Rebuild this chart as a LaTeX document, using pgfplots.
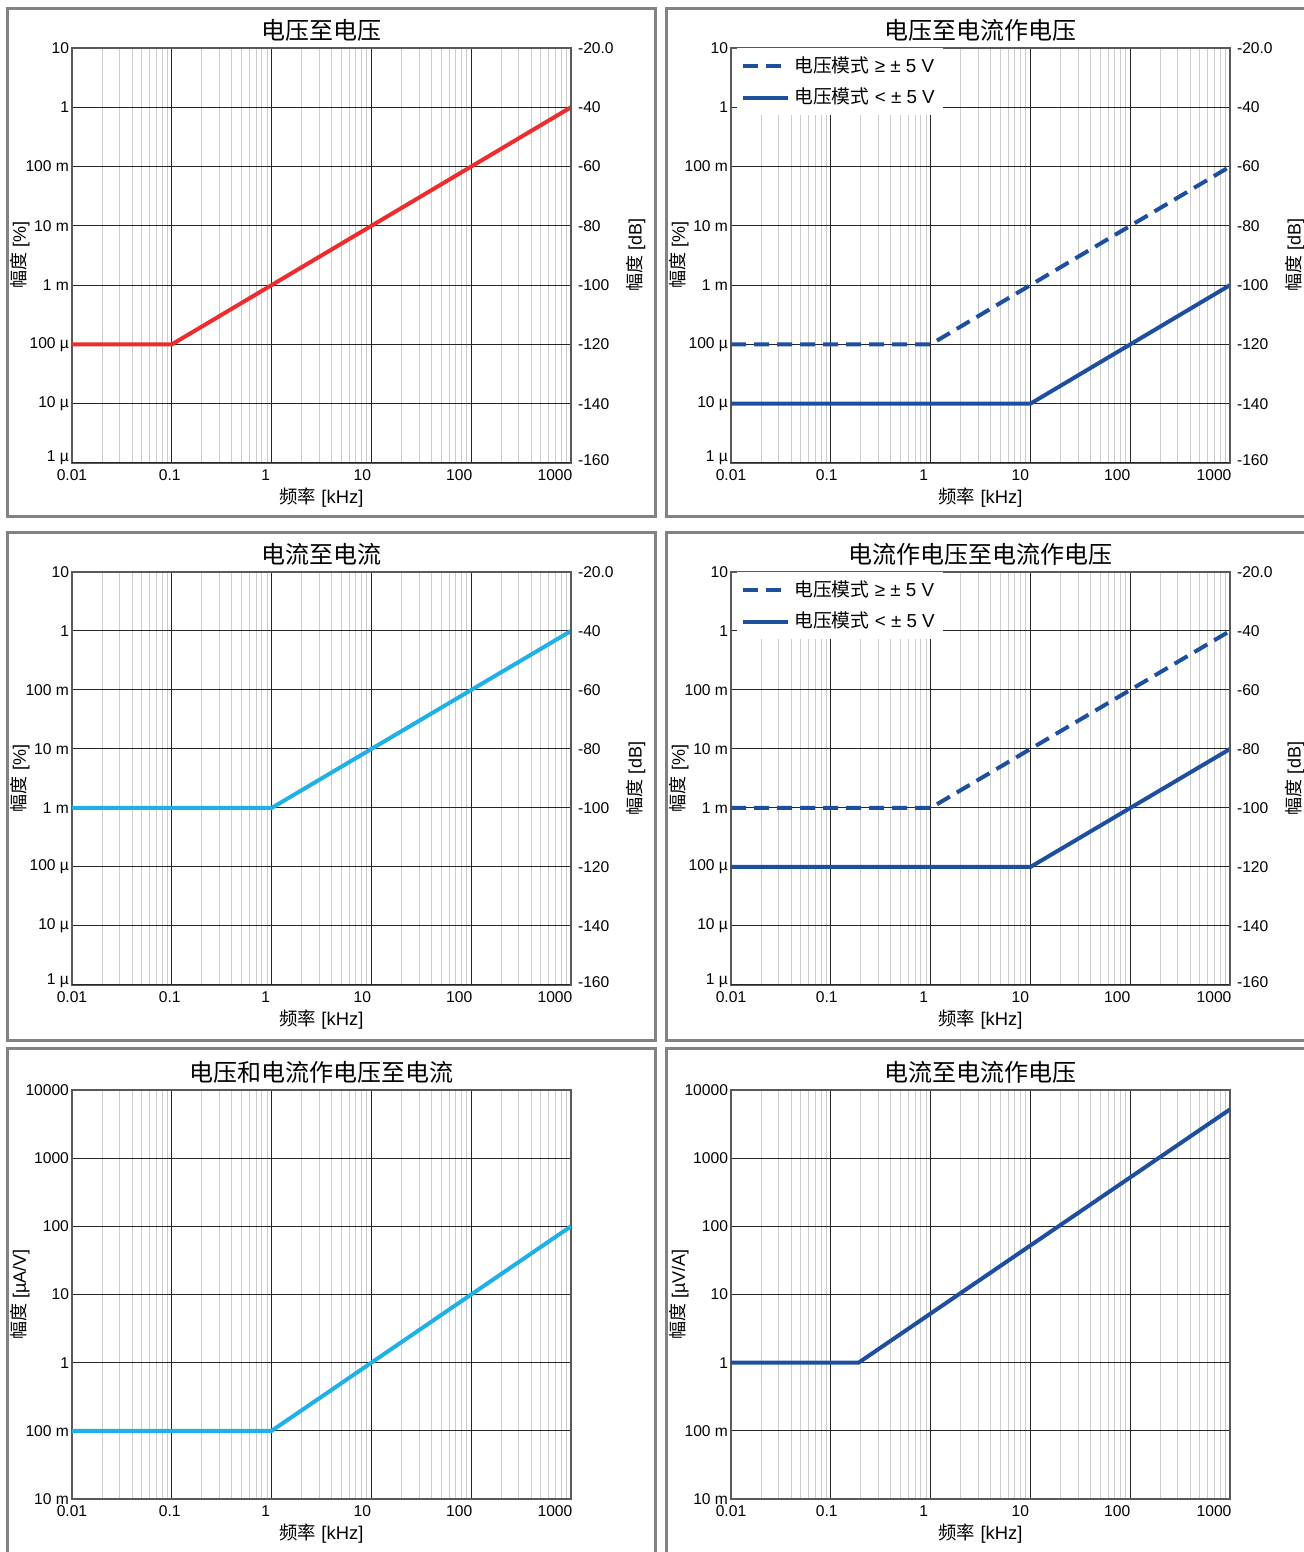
\documentclass[border=0pt]{standalone}
\usepackage{fontspec}
\setmainfont{Liberation Sans}
\newfontfamily\cjk{Noto Sans CJK SC}
\usepackage{pgfplots}
\pgfplotsset{compat=1.18}
\definecolor{cred}{RGB}{237,45,45}
\definecolor{ccyan}{RGB}{30,176,230}
\definecolor{cblue}{RGB}{30,78,160}
\definecolor{framegray}{RGB}{130,130,130}

\pgfplotsset{
  every axis/.append style={
    scale only axis, width=249.5pt,
    tick style={draw=none},
    axis line style={black!65, line width=0.75pt},
    tick label style={font=\fontsize{7.8}{9}\selectfont},
    yticklabel style={xshift=2pt},
    major grid style={black!85, line width=0.5pt},
    minor grid style={black!20, line width=0.5pt},
    title style={font=\cjk\fontsize{12}{13}\selectfont, at={(axis description cs:0.5,1.014)}, anchor=center},
    xlabel style={font=\fontsize{9.2}{10}\selectfont, at={(axis description cs:0.5,-0.084)}, anchor=center},
    legend style={at={(axis description cs:0.012,1.0)}, anchor=north west, draw=none, fill=white,
      font=\fontsize{9.4}{10}\selectfont, row sep=2.5pt, inner sep=2pt},
    legend cell align=left,
  },
  every axis plot/.append style={line width=2pt},
  legend image code/.code={\draw[#1] (0pt,0pt) -- (22.5pt,0pt);},
}
\newcommand{\sh}[2]{#1\hspace*{#2}}

\begin{document}
\begin{tikzpicture}
\useasboundingbox (0pt,0pt) rectangle (652pt,776pt);
% panel frames
\draw[framegray, line width=1.5pt] (3.5pt,517.5pt) rectangle (327.5pt,771.5pt);
\draw[framegray, line width=1.5pt] (333pt,517.5pt) rectangle (658pt,771.5pt);
\draw[framegray, line width=1.5pt] (3.5pt,255.5pt) rectangle (327.5pt,509.5pt);
\draw[framegray, line width=1.5pt] (333pt,255.5pt) rectangle (658pt,509.5pt);
\draw[framegray, line width=1.5pt] (3.5pt,-6pt) rectangle (327.5pt,251.5pt);
\draw[framegray, line width=1.5pt] (333pt,-6pt) rectangle (658pt,251.5pt);

% ---------- Row 1 left
\begin{axis}[at={(36pt,544.5pt)}, anchor=south west, height=207.5pt,
  xmode=log, ymode=log, xmin=0.01, xmax=1000, ymin=1e-6, ymax=10,
  xtick={0.01,0.1,1,10,100,1000},
  xticklabels={0.01,\sh{0.1}{2pt},\sh{1}{6pt},\sh{10}{9pt},\sh{100}{12pt},\sh{1000}{16pt}},
  ytick={1e-5,1e-4,1e-3,1e-2,1e-1,1,10},
  yticklabels={10 µ,100 µ,1 m,10 m,100 m,1,10},
  extra y ticks={1e-6}, extra y tick labels={1 µ},
  extra y tick style={yticklabel style={yshift=2.5pt}},
  xmajorgrids, xminorgrids, ymajorgrids,
  xlabel={{\cjk 频率} [kHz]},
  ylabel={{\cjk 幅度} [\%]},
  ylabel style={font=\fontsize{9}{10}\selectfont, at={(axis description cs:-0.104,0.5)}, anchor=center},
  title={电压至电压}]
\addplot[cred] coordinates {(0.01,1e-4) (0.1,1e-4) (1000,1)};
\end{axis}
\begin{axis}[at={(36pt,544.5pt)}, anchor=south west, height=207.5pt,
  xmin=0, xmax=1, ymin=-160, ymax=-20,
  axis x line=none, axis y line*=right,
  yticklabel style={xshift=-2pt},
  ytick={-140,-120,-100,-80,-60,-40,-20},
  yticklabels={-140,-120,-100,-80,-60,-40,-20.0},
  extra y ticks={-160}, extra y tick labels={-160},
  extra y tick style={yticklabel style={yshift=1.5pt}},
  ylabel={{\cjk 幅度} [dB]},
  ylabel style={font=\fontsize{9}{10}\selectfont, at={(axis description cs:1.13,0.5)}, anchor=center}]
\end{axis}

% ---------- Row 1 right
\begin{axis}[at={(365.5pt,544.5pt)}, anchor=south west, height=207.5pt,
  xmode=log, ymode=log, xmin=0.01, xmax=1000, ymin=1e-6, ymax=10,
  xtick={0.01,0.1,1,10,100,1000},
  xticklabels={0.01,\sh{0.1}{4pt},\sh{1}{7pt},\sh{10}{10pt},\sh{100}{13pt},\sh{1000}{16pt}},
  ytick={1e-5,1e-4,1e-3,1e-2,1e-1,1,10},
  yticklabels={10 µ,100 µ,1 m,10 m,100 m,1,10},
  extra y ticks={1e-6}, extra y tick labels={1 µ},
  extra y tick style={yticklabel style={yshift=2.5pt}},
  xmajorgrids, xminorgrids, ymajorgrids,
  xlabel={{\cjk 频率} [kHz]},
  ylabel={{\cjk 幅度} [\%]},
  ylabel style={font=\fontsize{9}{10}\selectfont, at={(axis description cs:-0.104,0.5)}, anchor=center},
  title={电压至电流作电压}]
\addplot[cblue, dash pattern=on 7.5pt off 4pt] coordinates {(0.01,1e-4) (1,1e-4) (1000,0.1)};
\addlegendentry{{\cjk 电压模式} ≥ ± 5 V}
\addplot[cblue] coordinates {(0.01,1e-5) (10,1e-5) (1000,1e-3)};
\addlegendentry{{\cjk 电压模式} < ± 5 V}
\end{axis}
\begin{axis}[at={(365.5pt,544.5pt)}, anchor=south west, height=207.5pt,
  xmin=0, xmax=1, ymin=-160, ymax=-20,
  axis x line=none, axis y line*=right,
  yticklabel style={xshift=-2pt},
  ytick={-140,-120,-100,-80,-60,-40,-20},
  yticklabels={-140,-120,-100,-80,-60,-40,-20.0},
  extra y ticks={-160}, extra y tick labels={-160},
  extra y tick style={yticklabel style={yshift=1.5pt}},
  ylabel={{\cjk 幅度} [dB]},
  ylabel style={font=\fontsize{9}{10}\selectfont, at={(axis description cs:1.13,0.5)}, anchor=center}]
\end{axis}

% ---------- Row 2 left
\begin{axis}[at={(36pt,283.5pt)}, anchor=south west, height=206.5pt,
  xmode=log, ymode=log, xmin=0.01, xmax=1000, ymin=1e-6, ymax=10,
  xtick={0.01,0.1,1,10,100,1000},
  xticklabels={0.01,\sh{0.1}{2pt},\sh{1}{6pt},\sh{10}{9pt},\sh{100}{12pt},\sh{1000}{16pt}},
  ytick={1e-5,1e-4,1e-3,1e-2,1e-1,1,10},
  yticklabels={10 µ,100 µ,1 m,10 m,100 m,1,10},
  extra y ticks={1e-6}, extra y tick labels={1 µ},
  extra y tick style={yticklabel style={yshift=2pt}},
  xmajorgrids, xminorgrids, ymajorgrids,
  xlabel={{\cjk 频率} [kHz]},
  ylabel={{\cjk 幅度} [\%]},
  ylabel style={font=\fontsize{9}{10}\selectfont, at={(axis description cs:-0.104,0.5)}, anchor=center},
  title={电流至电流}]
\addplot[ccyan] coordinates {(0.01,1e-3) (1,1e-3) (1000,1)};
\end{axis}
\begin{axis}[at={(36pt,283.5pt)}, anchor=south west, height=206.5pt,
  xmin=0, xmax=1, ymin=-160, ymax=-20,
  axis x line=none, axis y line*=right,
  yticklabel style={xshift=-2pt},
  ytick={-140,-120,-100,-80,-60,-40,-20},
  yticklabels={-140,-120,-100,-80,-60,-40,-20.0},
  extra y ticks={-160}, extra y tick labels={-160},
  extra y tick style={yticklabel style={yshift=1.5pt}},
  ylabel={{\cjk 幅度} [dB]},
  ylabel style={font=\fontsize{9}{10}\selectfont, at={(axis description cs:1.13,0.5)}, anchor=center}]
\end{axis}

% ---------- Row 2 right
\begin{axis}[at={(365.5pt,283.5pt)}, anchor=south west, height=206.5pt,
  xmode=log, ymode=log, xmin=0.01, xmax=1000, ymin=1e-6, ymax=10,
  xtick={0.01,0.1,1,10,100,1000},
  xticklabels={0.01,\sh{0.1}{4pt},\sh{1}{7pt},\sh{10}{10pt},\sh{100}{13pt},\sh{1000}{16pt}},
  ytick={1e-5,1e-4,1e-3,1e-2,1e-1,1,10},
  yticklabels={10 µ,100 µ,1 m,10 m,100 m,1,10},
  extra y ticks={1e-6}, extra y tick labels={1 µ},
  extra y tick style={yticklabel style={yshift=2pt}},
  xmajorgrids, xminorgrids, ymajorgrids,
  xlabel={{\cjk 频率} [kHz]},
  ylabel={{\cjk 幅度} [\%]},
  ylabel style={font=\fontsize{9}{10}\selectfont, at={(axis description cs:-0.104,0.5)}, anchor=center},
  title={电流作电压至电流作电压}]
\addplot[cblue, dash pattern=on 7.5pt off 4pt] coordinates {(0.01,1e-3) (1,1e-3) (1000,1)};
\addlegendentry{{\cjk 电压模式} ≥ ± 5 V}
\addplot[cblue] coordinates {(0.01,1e-4) (10,1e-4) (1000,1e-2)};
\addlegendentry{{\cjk 电压模式} < ± 5 V}
\end{axis}
\begin{axis}[at={(365.5pt,283.5pt)}, anchor=south west, height=206.5pt,
  xmin=0, xmax=1, ymin=-160, ymax=-20,
  axis x line=none, axis y line*=right,
  yticklabel style={xshift=-2pt},
  ytick={-140,-120,-100,-80,-60,-40,-20},
  yticklabels={-140,-120,-100,-80,-60,-40,-20.0},
  extra y ticks={-160}, extra y tick labels={-160},
  extra y tick style={yticklabel style={yshift=1.5pt}},
  ylabel={{\cjk 幅度} [dB]},
  ylabel style={font=\fontsize{9}{10}\selectfont, at={(axis description cs:1.13,0.5)}, anchor=center}]
\end{axis}

% ---------- Row 3 left
\begin{axis}[at={(36pt,26.5pt)}, anchor=south west, height=204.5pt,
  xmode=log, ymode=log, xmin=0.01, xmax=1000, ymin=0.01, ymax=10000,
  xtick={0.01,0.1,1,10,100,1000},
  xticklabels={0.01,\sh{0.1}{2pt},\sh{1}{6pt},\sh{10}{9pt},\sh{100}{12pt},\sh{1000}{16pt}},
  ytick={0.01,0.1,1,10,100,1000,10000},
  yticklabels={10 m,100 m,1,10,100,1000,10000},
  xmajorgrids, xminorgrids, ymajorgrids,
  xlabel={{\cjk 频率} [kHz]},
  ylabel={{\cjk 幅度} [µA/V]},
  ylabel style={font=\fontsize{9}{10}\selectfont, at={(axis description cs:-0.104,0.5)}, anchor=center},
  title={电压和电流作电压至电流}]
\addplot[ccyan] coordinates {(0.01,0.1) (1,0.1) (1000,100)};
\end{axis}

% ---------- Row 3 right
\begin{axis}[at={(365.5pt,26.5pt)}, anchor=south west, height=204.5pt,
  xmode=log, ymode=log, xmin=0.01, xmax=1000, ymin=0.01, ymax=10000,
  xtick={0.01,0.1,1,10,100,1000},
  xticklabels={0.01,\sh{0.1}{4pt},\sh{1}{7pt},\sh{10}{10pt},\sh{100}{13pt},\sh{1000}{16pt}},
  ytick={0.01,0.1,1,10,100,1000,10000},
  yticklabels={10 m,100 m,1,10,100,1000,10000},
  xmajorgrids, xminorgrids, ymajorgrids,
  xlabel={{\cjk 频率} [kHz]},
  ylabel={{\cjk 幅度} [µV/A]},
  ylabel style={font=\fontsize{9}{10}\selectfont, at={(axis description cs:-0.104,0.5)}, anchor=center},
  title={电流至电流作电压}]
\addplot[cblue] coordinates {(0.01,1) (0.19,1) (1000,5200)};
\end{axis}
\end{tikzpicture}
\end{document}
